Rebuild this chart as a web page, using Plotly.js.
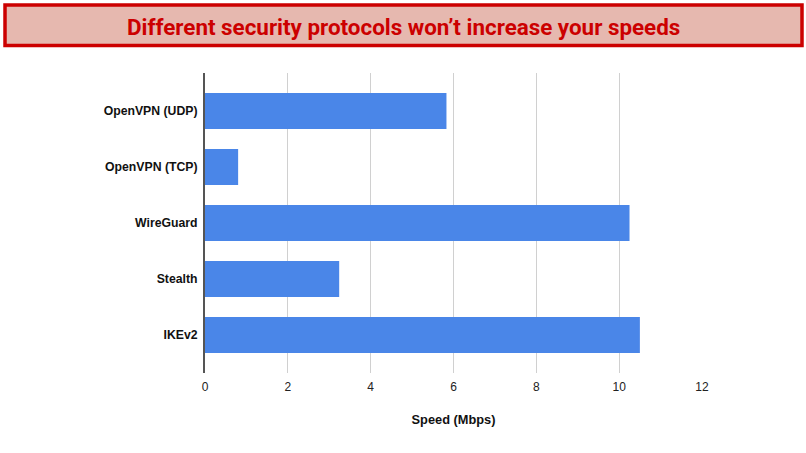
<!DOCTYPE html>
<html><head><meta charset="utf-8">
<script src="https://cdn.plot.ly/plotly-3.0.1.min.js"></script>
<style>html,body{margin:0;padding:0;background:#fff}#c{width:806px;height:453px}</style>
</head><body><div id="c"></div>
<script>
const categories = ["OpenVPN (UDP)","OpenVPN (TCP)","WireGuard","Stealth","IKEv2"];
const speeds = [5.83,0.8,10.25,3.24,10.5];
const tickValues = [0,2,4,6,8,10,12];
const titleText = "Different security protocols won’t increase your speeds";
const axisTitle = "Speed (Mbps)";
const font = "Liberation Sans, Arial, sans-serif";
const W=806,H=453,L=205,R=702,T=73,B=373;
const px=x=>(x-L)/(R-L), py=y=>(B-y)/(B-T);
Plotly.newPlot("c",[{type:"bar",orientation:"h",y:categories,x:speeds,
  marker:{color:"#4a86e8",line:{width:0}},width:0.643,hoverinfo:"none"}],{
  width:W,height:H,paper_bgcolor:"#fff",plot_bgcolor:"#fff",showlegend:false,
  margin:{l:L,r:W-R,t:T,b:H-B,pad:0},
  xaxis:{range:[0,12],tickvals:tickValues,ticks:"",showgrid:true,gridcolor:"#d0d0d0",gridwidth:1.2,zeroline:false,
    showline:false,tickfont:{family:font,size:12,color:"#222"},ticklabelstandoff:5,automargin:false,
    title:{text:"<b>"+axisTitle+"</b>",font:{family:font,size:12.8,color:"#111"},standoff:22}},
  yaxis:{autorange:false,range:[4.679,-0.679],tickmode:"array",tickvals:categories,ticktext:categories.map(s=>"<b>"+s+"</b>"),ticks:"",
    showline:true,linecolor:"#555",linewidth:2,showgrid:false,tickfont:{family:font,size:12.25,color:"#111"},ticklabelstandoff:3,automargin:false},
  shapes:[{type:"rect",xref:"paper",yref:"paper",x0:px(5),x1:px(802),y0:py(45.5),y1:py(5),
    fillcolor:"#e6b8af",line:{color:"#cc0000",width:3.5},layer:"above"}],
  annotations:[{xref:"paper",yref:"paper",xanchor:"center",yanchor:"middle",text:"<b>"+titleText+"</b>",showarrow:false,x:px(403.5),y:py(27),font:{family:"Roboto, sans-serif",size:22.4,color:"#cc0000"}}]
},{displayModeBar:false,staticPlot:true});
</script></body></html>
